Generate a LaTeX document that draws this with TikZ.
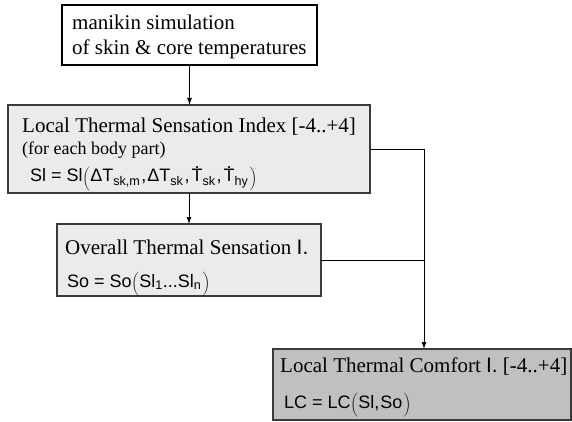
\documentclass[tikz,border=0pt]{standalone}
\usepackage{fontspec}
\setmainfont{Liberation Serif}
\newfontfamily\arfont{Liberation Sans}
\usetikzlibrary{arrows.meta}
\definecolor{boxgray}{HTML}{EBEBEB}
\definecolor{boxdark}{HTML}{C0C0C0}
\definecolor{edgegray}{HTML}{3A3A3A}
\newcommand\Tdt{\ooalign{T\cr\hidewidth\raisebox{0.74em}{.}\hidewidth\cr}}
\newcommand\lpar{\raisebox{-1.5pt}{$\left(\vbox to 16pt{}\right.\kern-1pt$}}
\newcommand\rpar{\raisebox{-1.5pt}{$\left.\vbox to 16pt{}\right)$}}
\begin{document}
\begin{tikzpicture}[x=1pt,y=-1pt,
  boxw/.style={draw=black, fill=white, line width=1.1pt, inner sep=0pt, outer sep=0pt, anchor=north west},
  boxg/.style={draw=edgegray, fill=boxgray, line width=1.3pt, inner sep=0pt, outer sep=0pt, anchor=north west},
  boxd/.style={draw=edgegray, fill=boxdark, line width=1.3pt, inner sep=0pt, outer sep=0pt, anchor=north west},
  lbl/.style={anchor=base west, inner sep=0pt, font=\fontsize{21}{24}\selectfont},
  sml/.style={anchor=base west, inner sep=0pt, font=\fontsize{18}{21}\selectfont},
  frm/.style={anchor=base west, inner sep=0pt, font=\arfont\fontsize{18}{21}\selectfont},
  arr/.style={-{Latex[length=7pt,width=5pt]}, line width=0.9pt},
  ln/.style={line width=0.9pt}]
\useasboundingbox (0,0) rectangle (572,422);
\fill[white] (0,0) rectangle (572,422);
% boxes
\node[boxw, minimum width=255pt, minimum height=60pt] (b1) at (62,5) {};
\node[boxg, minimum width=362pt, minimum height=88pt] (b2) at (8,105) {};
\node[boxg, minimum width=264pt, minimum height=72pt] (b3) at (57,224) {};
\node[boxd, minimum width=298pt, minimum height=71pt] (b4) at (273,349) {};
% texts
\node[lbl] (t1a) at (72,30) {manikin simulation};
\node[lbl] (t1b) at (72,55) {of skin \& core temperatures};
\node[lbl] (t2a) at (22,133) {Local Thermal Sensation Index [-4..+4]};
\node[sml] (t2b) at (22,155) {(for each body part)};
\node[frm] (f2) at (30,182) {Sl = Sl\lpar ΔT\textsubscript{sk,m}\kern1pt,\kern1ptΔT\textsubscript{sk}\kern1pt,\kern2pt\Tdt\textsubscript{sk}\kern1pt,\kern2pt\Tdt\textsubscript{hy}\rpar};
\node[lbl] (t3a) at (65,254) {Overall Thermal Sensation {\arfont I.}};
\node[frm] (f3) at (67,287) {So = So\lpar Sl\textsubscript{1}...Sl\textsubscript{n}\rpar};
\node[lbl] (t4a) at (280,372) {Local Thermal Comfort {\arfont I.} [-4..+4]};
\node[frm] (f4) at (284,408) {LC = LC\lpar Sl,\kern1pt So\rpar};
% connectors
\coordinate (vx) at (424,0);
\draw[arr] (b1.south) -- (b1.south |- b2.north);
\draw[arr] (b2.south) -- (b2.south |- b3.north);
\draw[arr] (b2.east) -| (vx |- b4.north);
\draw[ln] (b3.east) -- (vx |- b3.east);
\end{tikzpicture}
\end{document}
